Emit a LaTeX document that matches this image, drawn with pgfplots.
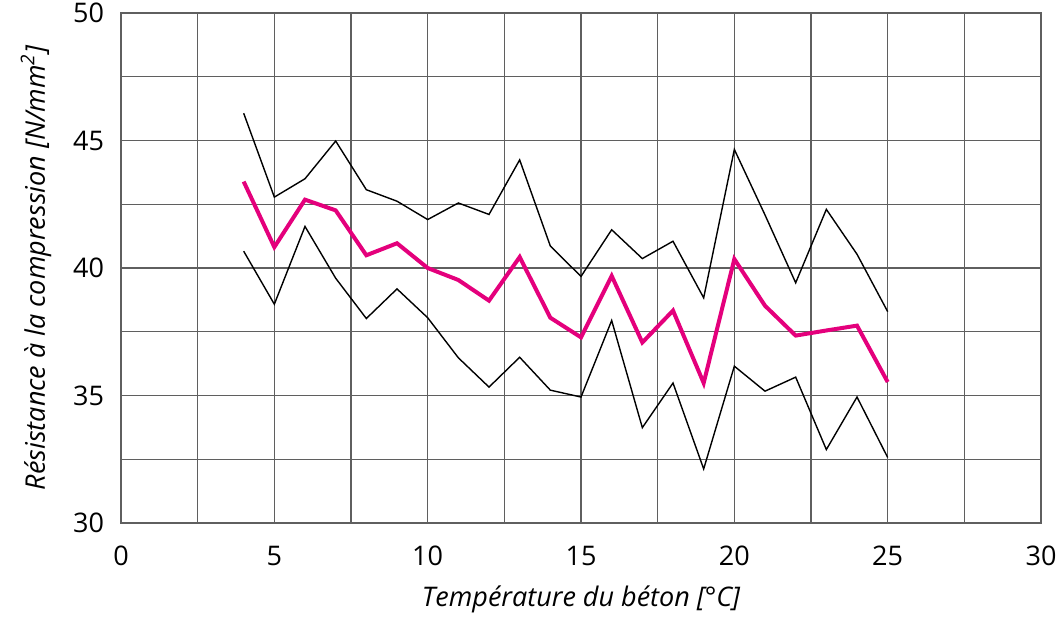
\documentclass[border=0pt]{standalone}
\usepackage{fontspec}
\setmainfont{Open Sans}
\usepackage{pgfplots}
\pgfplotsset{compat=1.18}
\definecolor{gridgray}{RGB}{95,95,95}
\definecolor{betonmag}{RGB}{228,0,124}

\begin{document}
\begin{tikzpicture}
\begin{axis}[
  scale only axis, width=460pt, height=255pt,
  xmin=0, xmax=30, ymin=30, ymax=50,
  xtick={0,5,...,30}, ytick={30,35,...,50},
  minor xtick={2.5,7.5,...,27.5}, minor ytick={32.5,37.5,...,47.5},
  grid=both,
  grid style={gridgray, line width=0.7pt},
  minor grid style={gridgray, line width=0.7pt},
  axis line style={gridgray, line width=0.7pt},
  major tick length=0pt, minor tick length=0pt,
  tick label style={font=\fontsize{13.5}{15}\selectfont, /pgf/number format/assume math mode=true},
  xticklabel style={yshift=-8pt},
  yticklabel style={xshift=-5pt},
  label style={font=\fontsize{13.5}{15}\selectfont\itshape},
  xlabel={Température du béton [°C]},
  ylabel={Résistance à la compression [N/mm\textsuperscript{2}]},
  xlabel style={yshift=-3pt},
  ylabel style={yshift=4pt},
]
\addplot[black, line width=0.7pt] coordinates {
  (4,46.07) (5,42.78) (6,43.50) (7,44.98) (8,43.07) (9,42.62) (10,41.90)
  (11,42.55) (12,42.10) (13,44.24) (14,40.86) (15,39.67) (16,41.50)
  (17,40.37) (18,41.05) (19,38.83) (20,44.65) (21,42.08) (22,39.42)
  (23,42.30) (24,40.54) (25,38.29)
};
\addplot[black, line width=0.7pt] coordinates {
  (4,40.66) (5,38.58) (6,41.63) (7,39.60) (8,38.02) (9,39.18) (10,38.05)
  (11,36.48) (12,35.33) (13,36.50) (14,35.21) (15,34.94) (16,37.94)
  (17,33.74) (18,35.49) (19,32.12) (20,36.15) (21,35.17) (22,35.72)
  (23,32.88) (24,34.94) (25,32.57)
};
\addplot[betonmag, line width=2pt] coordinates {
  (4,43.39) (5,40.82) (6,42.68) (7,42.26) (8,40.50) (9,40.97) (10,40.00)
  (11,39.53) (12,38.72) (13,40.43) (14,38.05) (15,37.28) (16,39.69)
  (17,37.08) (18,38.33) (19,35.49) (20,40.35) (21,38.52) (22,37.35)
  (23,37.55) (24,37.74) (25,35.53)
};
\end{axis}
\pgfresetboundingbox
\path[use as bounding box] ([xshift=-60.5pt,yshift=-47pt]current axis.south west)
  rectangle ([xshift=7.5pt,yshift=6.5pt]current axis.north east);
\end{tikzpicture}
\end{document}
